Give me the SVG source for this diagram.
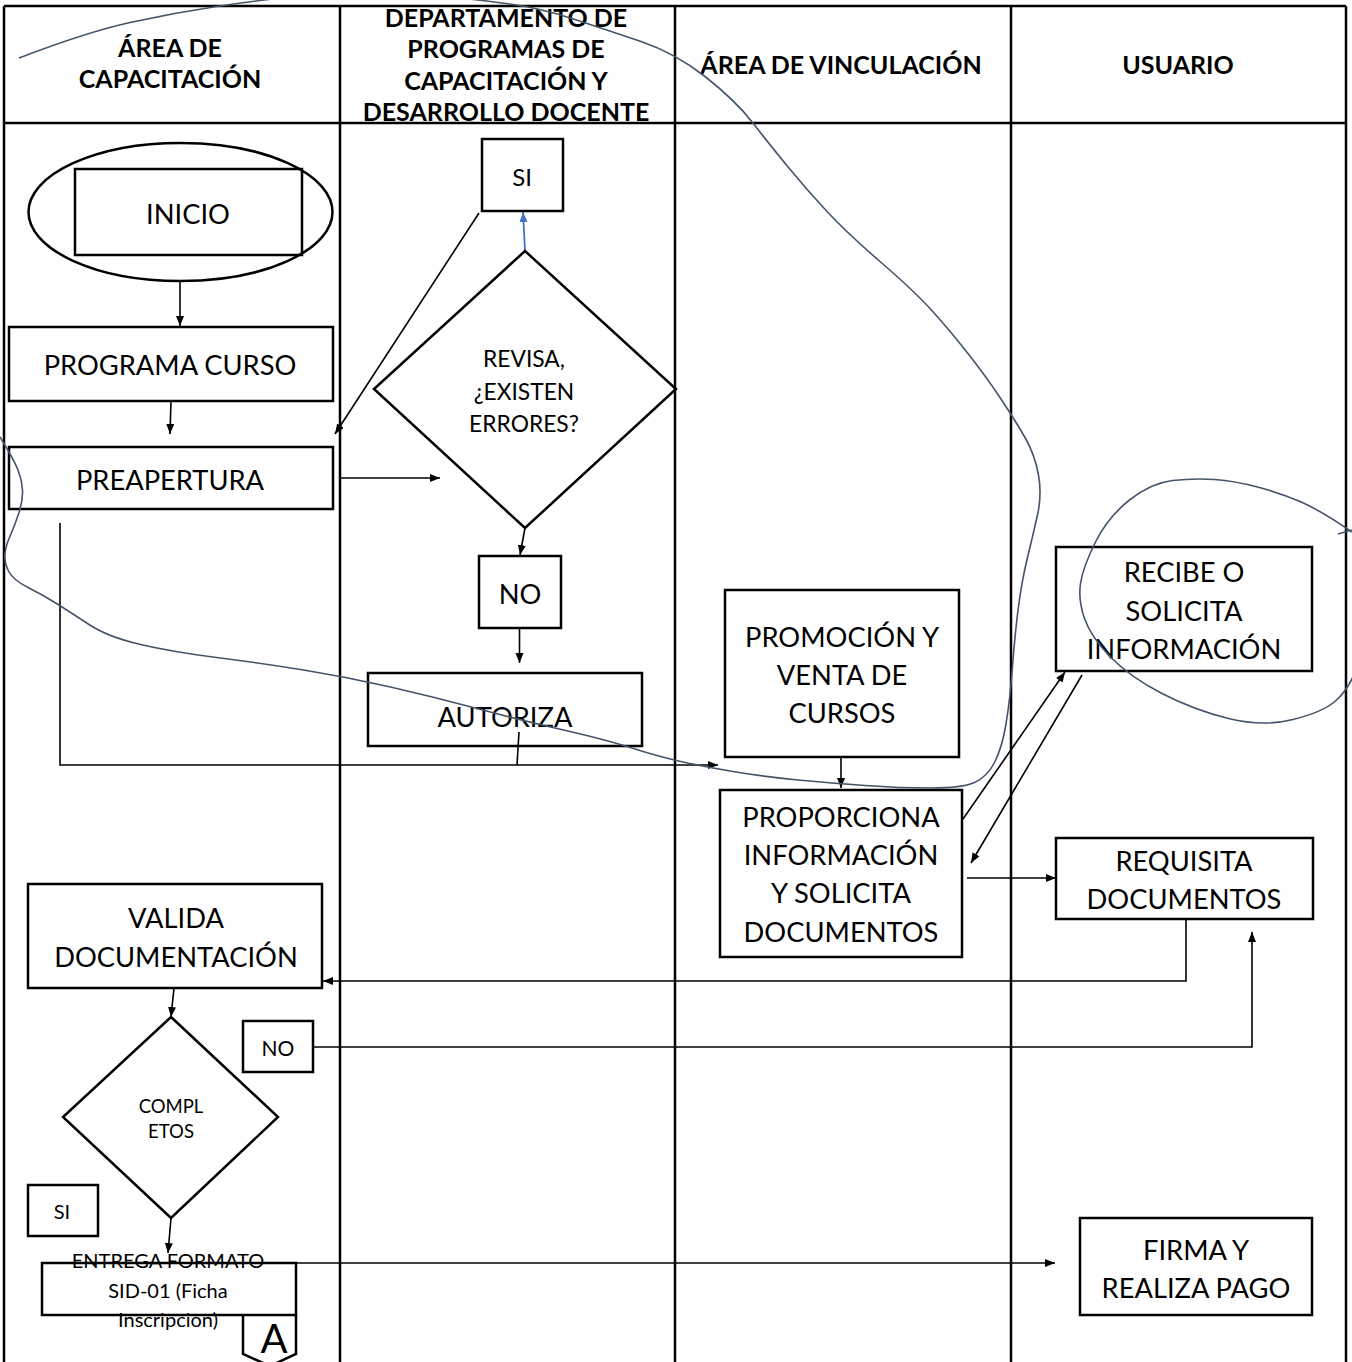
<svg xmlns="http://www.w3.org/2000/svg" width="1352" height="1362" viewBox="0 0 1352 1362">
<style>
.lane{stroke:#000;stroke-width:2.5;fill:none}
.box{fill:none;stroke:#000;stroke-width:2.5}
.con{fill:none;stroke:#000;stroke-width:1.6}
.hd{font-family:Lato,'Liberation Sans',sans-serif;font-weight:bold;font-size:25px;text-anchor:middle;fill:#000}
.t{font-family:Lato,'Liberation Sans',sans-serif;font-size:27.3px;text-anchor:middle;fill:#000}
.m{font-family:Lato,'Liberation Sans',sans-serif;font-size:22.8px;text-anchor:middle;fill:#000}
.s{font-family:Lato,'Liberation Sans',sans-serif;font-size:20px;text-anchor:middle;fill:#000}
.ink{fill:none;stroke:#44546A;stroke-width:1.6}
</style>
<defs>
<marker id="arr" markerUnits="userSpaceOnUse" markerWidth="11" markerHeight="9" refX="10" refY="4" orient="auto"><path d="M0,0 L10,4 L0,8 z" fill="#000"/></marker>
<marker id="arrb" markerUnits="userSpaceOnUse" markerWidth="11" markerHeight="9" refX="10" refY="4" orient="auto"><path d="M0,0 L10,4 L0,8 z" fill="#4472C4"/></marker>
<clipPath id="clipIns"><rect x="0" y="1240" width="400" height="90"/></clipPath>
</defs>
<rect width="1352" height="1362" fill="#fff"/>
<g id="lanes">
<line class="lane" x1="4" y1="6" x2="1346" y2="6"/>
<line class="lane" x1="4" y1="123" x2="1346" y2="123"/>
<line class="lane" x1="4" y1="6" x2="4" y2="1362"/>
<line class="lane" x1="340" y1="6" x2="340" y2="1362"/>
<line class="lane" x1="675" y1="6" x2="675" y2="1362"/>
<line class="lane" x1="1011" y1="6" x2="1011" y2="1362"/>
<line class="lane" x1="1346" y1="6" x2="1346" y2="1362"/>
<text class="hd" x="170" y="57">ÁREA DE</text>
<text class="hd" x="170" y="88">CAPACITACIÓN</text>
<text class="hd" x="506" y="27">DEPARTAMENTO DE</text>
<text class="hd" x="506" y="58">PROGRAMAS DE</text>
<text class="hd" x="506" y="90">CAPACITACIÓN Y</text>
<text class="hd" x="506" y="121">DESARROLLO DOCENTE</text>
<text class="hd" x="841" y="74">ÁREA DE VINCULACIÓN</text>
<text class="hd" x="1178" y="74">USUARIO</text>
</g>
<g id="connectors">
<line class="con" x1="180" y1="281" x2="180" y2="326" marker-end="url(#arr)"/>
<line class="con" x1="171" y1="401" x2="170" y2="434" marker-end="url(#arr)"/>
<line class="con" x1="340" y1="478" x2="440" y2="478" marker-end="url(#arr)"/>
<line x1="525" y1="251" x2="523" y2="212" stroke="#4472C4" stroke-width="1.8" marker-end="url(#arrb)"/>
<line class="con" x1="479" y1="213" x2="335" y2="434" marker-end="url(#arr)"/>
<line class="con" x1="525" y1="528" x2="520" y2="555" marker-end="url(#arr)"/>
<line class="con" x1="519.5" y1="628" x2="519.5" y2="663" marker-end="url(#arr)"/>
<line class="con" x1="519" y1="732" x2="517" y2="765"/>
<polyline class="con" points="60,523 60,765 718,765" marker-end="url(#arr)"/>
<line class="con" x1="841" y1="757" x2="841" y2="788" marker-end="url(#arr)"/>
<line class="con" x1="963" y1="819" x2="1065" y2="672" marker-end="url(#arr)"/>
<line class="con" x1="1082" y1="675" x2="971" y2="863" marker-end="url(#arr)"/>
<line class="con" x1="967" y1="878" x2="1056" y2="878" marker-end="url(#arr)"/>
<polyline class="con" points="1186,919 1186,981 323,981" marker-end="url(#arr)"/>
<polyline class="con" points="313,1047 1252,1047 1252,932" marker-end="url(#arr)"/>
<line class="con" x1="174" y1="988" x2="171" y2="1017" marker-end="url(#arr)"/>
<line class="con" x1="171" y1="1218" x2="168" y2="1253" marker-end="url(#arr)"/>
<line class="con" x1="296" y1="1263" x2="1055" y2="1263" marker-end="url(#arr)"/>
</g>
<g id="n-inicio">
<ellipse class="box" cx="180.5" cy="212" rx="152" ry="69"/>
<rect class="box" x="75" y="169" width="227" height="86"/>
<text class="t" x="188" y="224">INICIO</text>
</g>
<g id="n-programa">
<rect class="box" x="9" y="327" width="324" height="74"/>
<text class="t" x="170" y="375">PROGRAMA CURSO</text>
</g>
<g id="n-preapertura">
<rect class="box" x="9" y="447" width="324" height="62"/>
<text class="t" x="170" y="490">PREAPERTURA</text>
</g>
<g id="n-si1">
<rect class="box" x="482" y="139" width="81" height="72"/>
<text class="t" x="522" y="186" style="font-size:24px">SI</text>
</g>
<g id="n-revisa">
<polygon class="box" points="525,251 676,389 525,528 374,389"/>
<text class="m" x="524" y="367">REVISA,</text>
<text class="m" x="524" y="400">¿EXISTEN</text>
<text class="m" x="524" y="432">ERRORES?</text>
</g>
<g id="n-no1">
<rect class="box" x="479" y="556" width="82" height="72"/>
<text class="t" x="520" y="604">NO</text>
</g>
<g id="n-autoriza">
<rect class="box" x="368" y="673" width="274" height="73"/>
<text class="t" x="505" y="727">AUTORIZA</text>
</g>
<g id="n-promocion">
<rect class="box" x="725" y="590" width="234" height="167"/>
<text class="t" x="842" y="647">PROMOCIÓN Y</text>
<text class="t" x="842" y="685">VENTA DE</text>
<text class="t" x="842" y="723">CURSOS</text>
</g>
<g id="n-recibe">
<rect class="box" x="1056" y="547" width="256" height="124"/>
<text class="t" x="1184" y="582">RECIBE O</text>
<text class="t" x="1184" y="621">SOLICITA</text>
<text class="t" x="1184" y="659">INFORMACIÓN</text>
</g>
<g id="n-proporciona">
<rect class="box" x="720" y="790" width="242" height="167"/>
<text class="t" x="841" y="827">PROPORCIONA</text>
<text class="t" x="841" y="865">INFORMACIÓN</text>
<text class="t" x="841" y="903">Y SOLICITA</text>
<text class="t" x="841" y="942">DOCUMENTOS</text>
</g>
<g id="n-requisita">
<rect class="box" x="1056" y="838" width="257" height="81"/>
<text class="t" x="1184" y="871">REQUISITA</text>
<text class="t" x="1184" y="909">DOCUMENTOS</text>
</g>
<g id="n-valida">
<rect class="box" x="28" y="884" width="294" height="104"/>
<text class="t" x="176" y="928">VALIDA</text>
<text class="t" x="176" y="967">DOCUMENTACIÓN</text>
</g>
<g id="n-completos">
<polygon class="box" points="171,1017 278,1117 171,1218 63,1117"/>
<text class="s" x="171" y="1113" style="font-size:18.5px">COMPL</text>
<text class="s" x="171" y="1138" style="font-size:18.5px">ETOS</text>
</g>
<g id="n-no2">
<rect class="box" x="243" y="1021" width="70" height="51"/>
<text class="s" x="278" y="1056" style="font-size:21px">NO</text>
</g>
<g id="n-si2">
<rect class="box" x="28" y="1185" width="70" height="51"/>
<text class="s" x="62" y="1219">SI</text>
</g>
<g id="n-entrega">
<rect class="box" x="42" y="1263" width="254" height="52"/>
<text class="s" x="168" y="1268">ENTREGA FORMATO</text>
<text class="s" x="168" y="1298">SID-01 (Ficha</text>
<text class="s" x="168" y="1327" clip-path="url(#clipIns)">Inscripcion)</text>
</g>
<g id="n-a">
<polyline class="box" points="243,1315 243,1354 270,1366 296,1354 296,1315"/>
<text class="t" x="274" y="1353" style="font-size:40px">A</text>
</g>
<g id="n-firma">
<rect class="box" x="1080" y="1218" width="232" height="97"/>
<text class="t" x="1196" y="1260">FIRMA Y</text>
<text class="t" x="1196" y="1298">REALIZA PAGO</text>
</g>
<g id="annotations">
<path class="ink" d="M19,58 Q87,32 130,22.5 Q173,13 216.5,6.5 Q260,0 315,-6 Q370,-12 425,-6 Q480,0 510,4 Q540,8 573.5,19 Q607,30 641,41.5 Q675,53 705,76.5 Q735,100 752.5,122.5 Q770,145 788.5,167.5 Q807,190 827,211.5 Q847,233 880,261.5 Q913,290 930,308.5 Q947,327 966,351 Q985,375 1000,397.5 Q1015,420 1025,437.5 Q1035,455 1038.5,475 Q1042,495 1037.5,515 Q1033,535 1027.5,557.5 Q1022,580 1018.5,606.5 Q1015,633 1012.5,666.5 Q1010,700 1006,724 Q1002,748 994.5,762.5 Q987,777 974.5,782.5 Q962,788 931,788 Q900,788 865,785.5 Q830,783 798,780 Q766,777 736,772 Q706,767 683,762 Q660,757 633.5,748.5 Q607,740 563.5,730 Q520,720 477,708.5 Q434,697 390.5,687 Q347,677 303.5,670 Q260,663 216.5,657.5 Q173,652 140.5,644.5 Q108,637 89,624.5 Q70,612 56.5,603.5 Q43,595 28,587.5 Q13,580 8.5,571 Q4,562 5,553.5 Q6,545 10.5,535 Q15,525 19,512.5 Q23,500 22.5,490 Q22,480 18,470 Q14,460 0,437"/>
<path class="ink" d="M1352,532 Q1320,510 1300,501.5 Q1280,493 1257.5,487 Q1235,481 1214.5,479.5 Q1194,478 1172.5,480.5 Q1151,483 1129.5,500 Q1108,517 1095.5,542 Q1083,567 1080.5,583.5 Q1078,600 1084.5,618.5 Q1091,637 1110.5,657 Q1130,677 1162,693.5 Q1194,710 1228.5,718.5 Q1263,727 1293,719.5 Q1323,712 1335.5,701 Q1348,690 1356,670"/>
<line class="ink" x1="1338" y1="534" x2="1352" y2="530"/>
</g>
</svg>
